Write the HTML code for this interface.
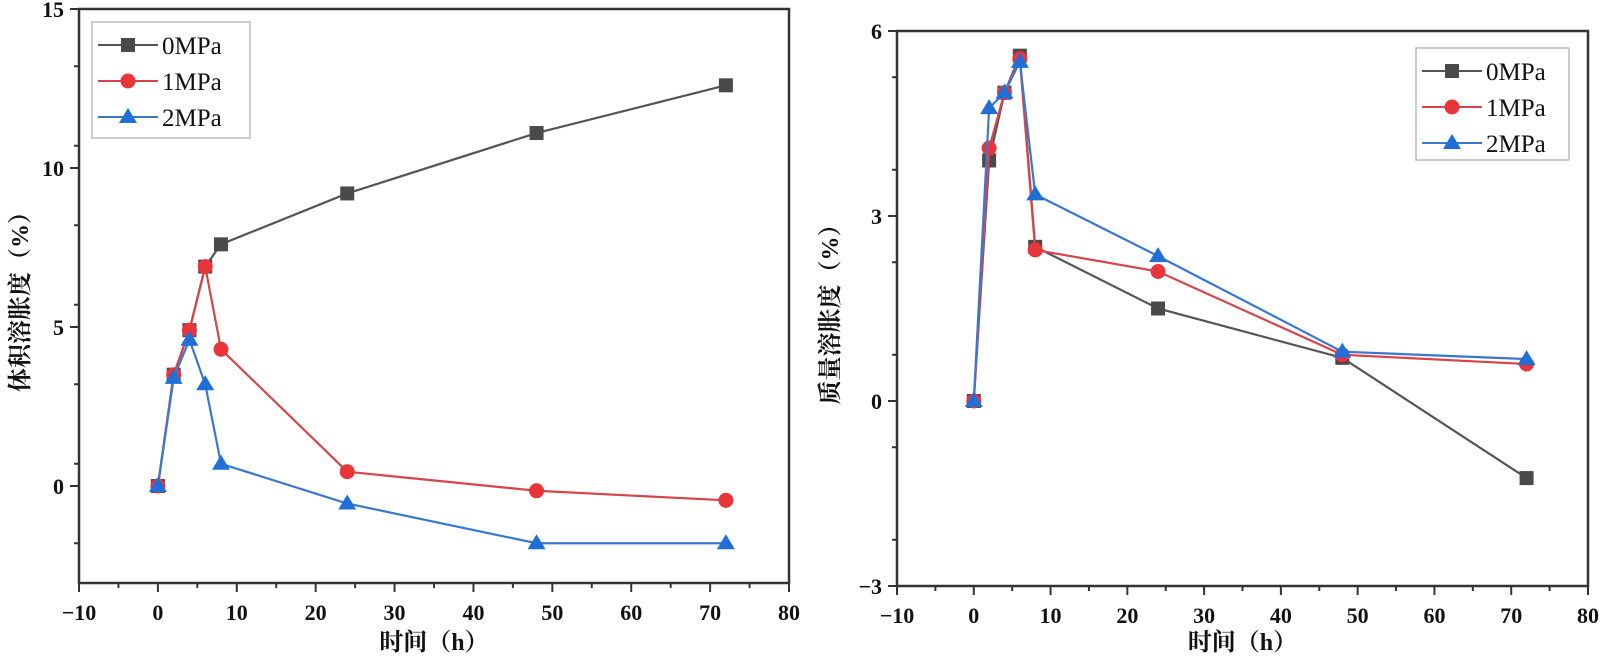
<!DOCTYPE html>
<html><head><meta charset="utf-8"><style>
html,body{margin:0;padding:0;background:#fff;}
svg{display:block;font-family:"Liberation Serif","Noto Serif CJK SC",serif;}
</style></head><body>
<svg id="svg" width="1600" height="667" viewBox="0 0 1600 667" xmlns="http://www.w3.org/2000/svg"></svg>
<script>
const timesH = [0, 2, 4, 6, 8, 24, 48, 72];
const seriesNames = ["0MPa", "1MPa", "2MPa"];
const volume0 = [0, 3.5, 4.9, 6.9, 7.6, 9.2, 11.1, 12.6];
const volume1 = [0, 3.5, 4.9, 6.9, 4.3, 0.45, -0.15, -0.45];
const volume2 = [0, 3.4, 4.6, 3.2, 0.7, -0.55, -1.8, -1.8];
const mass0 = [0, 3.9, 5.0, 5.6, 2.5, 1.5, 0.7, -1.25];
const mass1 = [0, 4.1, 5.0, 5.55, 2.45, 2.1, 0.75, 0.6];
const mass2 = [0, 4.75, 5.0, 5.5, 3.35, 2.35, 0.8, 0.68];
const xTicks = [-10, 0, 10, 20, 30, 40, 50, 60, 70, 80];
const leftYTicks = [0, 5, 10, 15];
const rightYTicks = [-3, 0, 3, 6];

const NS = "http://www.w3.org/2000/svg";
const svg = document.getElementById("svg");
const colors = ["#4a4a4a", "#e8353a", "#1f6fd6"];
const lineColors = ["#555555", "#d9434a", "#3a78d0"];
function mk(tag, attrs, parent) {
  const e = document.createElementNS(NS, tag);
  for (const k in attrs) e.setAttribute(k, attrs[k]);
  (parent || svg).appendChild(e);
  return e;
}
function chart(cfg) {
  const g = mk("g", {});
  
  
  const X = v => cfg.x0 + (v - cfg.xmin) / (cfg.xmax - cfg.xmin) * (cfg.x1 - cfg.x0);
  const Y = v => cfg.y1 - (v - cfg.ymin) / (cfg.ymax - cfg.ymin) * (cfg.y1 - cfg.y0);
  const frame = mk("rect", {x: cfg.x0, y: cfg.y0, width: cfg.x1 - cfg.x0, height: cfg.y1 - cfg.y0, fill: "none", stroke: "#333", "stroke-width": 2.5}, g);
  
  
  for (let i = 0; i < xTicks.length; i++) {
    const v = xTicks[i];
    mk("line", {x1: X(v), x2: X(v), y1: cfg.y1, y2: cfg.y1 + 9, stroke: "#333", "stroke-width": 2}, g);
    if (i < xTicks.length - 1) {
      const m = v + 5;
      mk("line", {x1: X(m), x2: X(m), y1: cfg.y1, y2: cfg.y1 + 5, stroke: "#333", "stroke-width": 2}, g);
    }
    const t = mk("text", {x: X(v), y: cfg.y1 + 37, "text-anchor": "middle", "font-size": 22, "font-weight": "bold", fill: "#111"}, g);
    t.textContent = v < 0 ? "\u2212" + Math.abs(v) : v;
    
    
  }
  for (let i = 0; i < cfg.yTicks.length; i++) {
    const v = cfg.yTicks[i];
    mk("line", {x1: cfg.x0 - 9, x2: cfg.x0, y1: Y(v), y2: Y(v), stroke: "#333", "stroke-width": 2}, g);
    const t = mk("text", {x: cfg.x0 - 15, y: Y(v) + 8, "text-anchor": "end", "font-size": 22, "font-weight": "bold", fill: "#111"}, g);
    t.textContent = v < 0 ? "\u2212" + Math.abs(v) : v;
    
    
  }
  for (let v = cfg.ymin + cfg.minor; v < cfg.ymax; v += cfg.minor * 2) {
    mk("line", {x1: cfg.x0 - 5, x2: cfg.x0, y1: Y(v), y2: Y(v), stroke: "#333", "stroke-width": 2}, g);
  }
  const xt = mk("text", {x: (cfg.x0 + cfg.x1) / 2, y: 650, "text-anchor": "middle", "font-size": 24, "font-weight": "bold", fill: "#111"}, g);
  xt.textContent = "时间（h）";
  
  
  const cy = (cfg.y0 + cfg.y1) / 2;
  const yt = mk("text", {x: cfg.ytx, y: cy, "text-anchor": "middle", "font-size": 24, "font-weight": "bold", fill: "#111", transform: `rotate(-90 ${cfg.ytx} ${cy})`}, g);
  yt.textContent = cfg.ytitle;
  
  
  cfg.series.forEach((vals, s) => {
    const pts = timesH.map((t, i) => X(t) + "," + Y(vals[i])).join(" ");
    const pl = mk("polyline", {points: pts, fill: "none", stroke: lineColors[s], "stroke-width": 2.2}, g);
    
    
    timesH.forEach((t, i) => {
      const m = marker(s, X(t), Y(vals[i]), g);
      
      
    });
  });
  const L = cfg.legend;
  const lg = mk("g", {}, g);
  
  
  mk("rect", {x: L.x, y: L.y, width: L.w, height: L.h, fill: "#fff", stroke: "#bbb", "stroke-width": 1.5}, lg);
  seriesNames.forEach((n, s) => {
    const yy = L.y + 23 + s * 36;
    const e = mk("g", {}, lg);
    
    
    mk("line", {x1: L.x + 6, x2: L.x + 66, y1: yy, y2: yy, stroke: lineColors[s], "stroke-width": 2}, e);
    marker(s, L.x + 36, yy, e);
    const t = mk("text", {x: L.x + 70, y: yy + 9, "font-size": 25, fill: "#111"}, e);
    t.textContent = n;
  });
}
function marker(s, x, y, p) {
  if (s === 0) return mk("rect", {x: x - 7, y: y - 7, width: 14, height: 14, fill: colors[0]}, p);
  if (s === 1) return mk("circle", {cx: x, cy: y, r: 7.5, fill: colors[1]}, p);
  return mk("polygon", {points: `${x},${y - 9} ${x + 9},${y + 6} ${x - 9},${y + 6}`, fill: colors[2]}, p);
}
chart({name: "volume-swelling-chart", x0: 79, x1: 789, y0: 9, y1: 583, xmin: -10, xmax: 80, ymin: -3.05, ymax: 15, minor: 1.25,
  yTicks: leftYTicks, ytitle: "体积溶胀度（%）", ytx: 28, series: [volume0, volume1, volume2],
  legend: {x: 92, y: 22, w: 158, h: 116}});
chart({name: "mass-swelling-chart", x0: 897, x1: 1588, y0: 31, y1: 586, xmin: -10, xmax: 80, ymin: -3, ymax: 6, minor: 0.75,
  yTicks: rightYTicks, ytitle: "质量溶胀度（%）", ytx: 838, series: [mass0, mass1, mass2],
  legend: {x: 1416, y: 48, w: 153, h: 112}});
</script>
</body></html>
